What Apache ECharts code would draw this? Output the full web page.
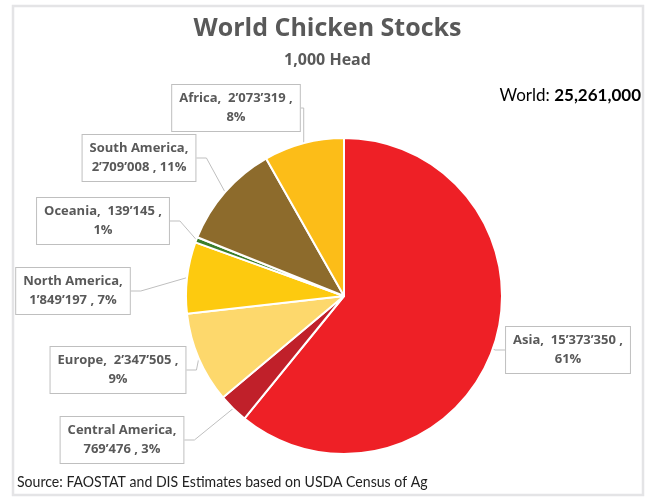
<!DOCTYPE html>
<html>
<head>
<meta charset="utf-8">
<script src="https://cdn.jsdelivr.net/npm/echarts@6/dist/echarts.min.js"></script>
<style>
  html, body { margin: 0; padding: 0; background: #fff; }
  #chart { width: 655px; height: 499px; }
</style>
</head>
<body>
<div id="chart"></div>
<script>
// data
let regions = ['Asia', 'Central America', 'Europe', 'North America', 'Oceania', 'South America', 'Africa']
let stocks = [15373350, 769476, 2347505, 1849197, 139145, 2709008, 2073319]
let colors = ['#ee2026', '#c0202a', '#fdd86c', '#fdca0f', '#3b7d2a', '#8d6b2c', '#fcbd18']
let worldTotal = '25,261,000'

// where each label box sits (centre, px)
let labelPos = [
  [568, 350], [122, 440], [118, 370], [73, 291], [103, 221], [139, 158], [236, 108]
]

let chart = echarts.init(document.getElementById('chart'))

function fmt(n) {
  return String(n).replace(/\B(?=(\d{3})+(?!\d))/g, '\u2019')
}

let option = {
  animation: false,
  title: [
    {
      text: 'World Chicken Stocks',
      left: 'center',
      top: 11,
      textStyle: { fontFamily: 'Open Sans', fontSize: 25, fontWeight: 'bold', color: '#595959' }
    },
    {
      text: '1,000 Head',
      left: 'center',
      top: 47,
      textStyle: { fontFamily: 'Open Sans', fontSize: 16, fontWeight: 'bold', color: '#595959' }
    }
  ],
  graphic: [
    {
      type: 'rect',
      shape: { x: 13, y: 6, width: 630, height: 489 },
      style: { fill: 'none', stroke: '#e4e4e6', lineWidth: 2.5 },
      silent: true
    },
    {
      type: 'text',
      right: 14,
      top: 87,
      style: {
        text: '{a|World: }{b|' + worldTotal + '}',
        rich: {
          a: { fontFamily: 'Lato', fontSize: 17, color: '#111' },
          b: { fontFamily: 'Lato', fontSize: 17, fontWeight: 'bold', color: '#111' }
        }
      }
    },
    {
      type: 'text',
      x: 17,
      y: 474,
      scaleX: 0.88,
      style: {
        text: 'Source: FAOSTAT and DIS Estimates based on USDA Census of Ag',
        fontFamily: 'Lato',
        fontSize: 16,
        fill: '#222'
      }
    }
  ],
  series: [
    {
      type: 'pie',
      center: [344, 296],
      radius: [0, 158],
      startAngle: 90,
      clockwise: true,
      itemStyle: { borderColor: '#fff', borderWidth: 2 },
      label: {
        show: true,
        fontFamily: 'Open Sans',
        fontSize: 13,
        fontWeight: 'bold',
        color: '#595959',
        lineHeight: 19,
        align: 'center',
        backgroundColor: '#fff',
        borderColor: '#bfbfbf',
        borderWidth: 1,
        padding: [4, 7],
        formatter: function (p) {
          let pct = Math.round(p.percent) + '%'
          if (p.name.indexOf(' ') > -1) {
            return p.name + ',\n' + fmt(p.value) + ' , ' + pct
          }
          return p.name + ',  ' + fmt(p.value) + ' ,\n' + pct
        }
      },
      labelLine: {
        show: true,
        length: 10,
        length2: 10,
        lineStyle: { color: '#bfbfbf', width: 1 }
      },
      labelLayout: function (params) {
        let pos = labelPos[params.dataIndex]
        return {
          x: pos[0],
          y: pos[1],
          align: 'center',
          verticalAlign: 'middle'
        }
      },
      data: regions.map(function (r, i) {
        return { name: r, value: stocks[i], itemStyle: { color: colors[i] } }
      })
    }
  ]
}

chart.setOption(option)
</script>
</body>
</html>
